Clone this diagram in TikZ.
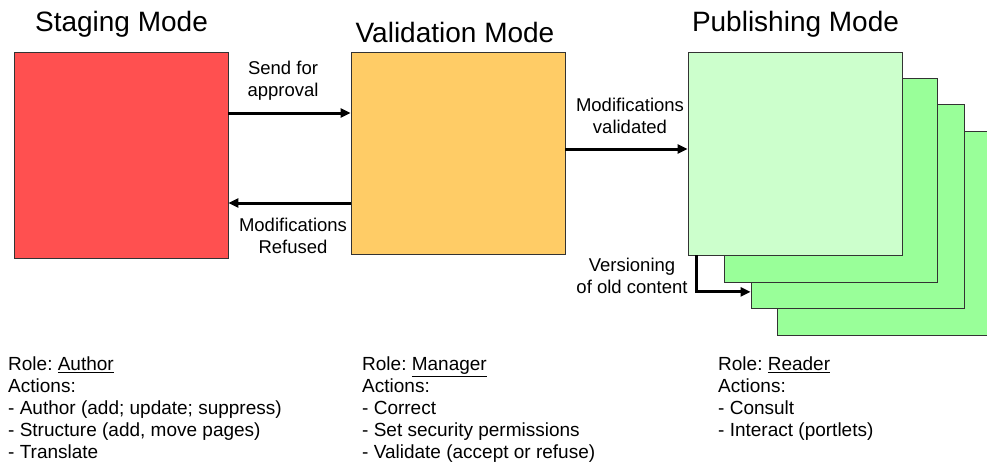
\documentclass[tikz,border=0pt]{standalone}
\usepackage{fontspec}
\setmainfont{Liberation Sans}
\usetikzlibrary{arrows.meta, positioning, calc}
\frenchspacing

\definecolor{stagered}{HTML}{FF5050}
\definecolor{validorange}{HTML}{FFCC66}
\definecolor{publight}{HTML}{CCFFCC}
\definecolor{pubgreen}{HTML}{99FF99}
\definecolor{boxline}{HTML}{333333}

\begin{document}
\begin{tikzpicture}[x=1pt, y=-1pt, font=\fontsize{18.5}{22}\selectfont,
  modebox/.style = {draw=boxline, line width=0.8pt, minimum width=214pt, inner sep=0pt},
  stagebox/.style = {modebox, fill=stagered, minimum height=206pt},
  validbox/.style = {modebox, fill=validorange, minimum height=202pt},
  pubbox/.style = {modebox, fill=publight, minimum height=203pt},
  pagebox/.style = {modebox, fill=pubgreen, minimum width=213pt, minimum height=204pt},
  title/.style = {font=\fontsize{28}{32}\selectfont, anchor=base, inner sep=0pt},
  label/.style = {align=center, inner sep=0pt},
  roletext/.style = {align=left, anchor=north west, inner sep=0pt, font=\fontsize{19}{22}\selectfont},
  arrow/.style = {-{Triangle[length=10pt, width=9pt]}, line width=3pt}
]
\useasboundingbox (0,0) rectangle (987,463);
% mode boxes
\node[stagebox] (staging) at (121,155) {};
\node[validbox] (validation) at (458,153) {};
\node[pagebox] (page4) at (883.5,233) {};
\node[pagebox] (page3) at (857.5,206.5) {};
\node[pagebox] (page2) at (830.5,180) {};
\node[pubbox] (publishing) at (795,153.5) {};
% titles
\node[title] (staging_title) at (121.5,31) {Staging Mode};
\node[title] (validation_title) at (455,42) {Validation Mode};
\node[title] (publishing_title) at (795.5,31) {Publishing Mode};
% connectors
\coordinate (send_src) at (staging.east |- 0,113);
\coordinate (refuse_src) at (validation.west |- 0,203);
\coordinate (valid_src) at (validation.east |- 0,149);
\coordinate (version_src) at ($(publishing.south west)+(9,0)$);
\coordinate (version_dst) at ($(page3.south west)+(0,-17)$);
\draw[arrow] (send_src) -- (send_src -| validation.west);
\draw[arrow] (refuse_src) -- (refuse_src -| staging.east);
\draw[arrow] (valid_src) -- (valid_src -| publishing.west);
\draw[arrow] (version_src) |- (version_dst);
\node[label] (send_lbl) at (283,81) {Send for\\approval};
\node[label] (refuse_lbl) at (293,236) {Modifications\\Refused};
\node[label] (valid_lbl) at (630,116) {Modifications\\validated};
\node[label] (version_lbl) at (632,276) {Versioning\\of old content};
% roles
\node[roletext] (author_role) at (8,357) {Role: \underline{Author}\\Actions:\\- Author (add; update; suppress)\\- Structure (add, move pages)\\- Translate};
\node[roletext] (manager_role) at (362,357) {Role: \underline{Manager}\\Actions:\\- Correct\\- Set security permissions\\- Validate (accept or refuse)};
\node[roletext] (reader_role) at (718,357) {Role: \underline{Reader}\\Actions:\\- Consult\\- Interact (portlets)};
\end{tikzpicture}
\end{document}
